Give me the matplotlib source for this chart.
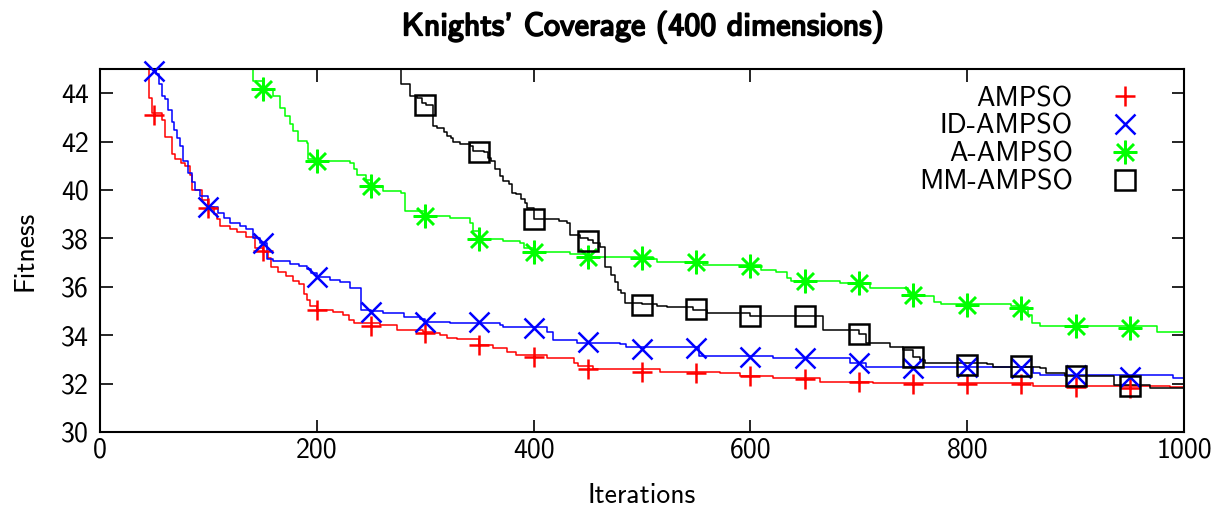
import matplotlib
matplotlib.use("Agg")
import matplotlib.pyplot as plt
import matplotlib.patheffects as pe
from matplotlib.lines import Line2D

plt.rcParams["font.family"] = ["cmss10", "DejaVu Sans"]
plt.rcParams["axes.unicode_minus"] = False
plt.rcParams["mathtext.fontset"] = "cm"

title = "Knights' Coverage (400 dimensions)"
x_label = "Iterations"
y_label = "Fitness"
series_names = ["AMPSO", "ID-AMPSO", "A-AMPSO", "MM-AMPSO"]

x_ticks = [0, 200, 400, 600, 800, 1000]
y_ticks = [30, 32, 34, 36, 38, 40, 42, 44]

# Best-so-far fitness, stored as (iteration, value) step points
ampso_it = [44, 45, 48, 57, 60, 66, 69, 75, 78, 83, 85, 94, 100, 105, 108, 111,
            120, 126, 135, 143, 150, 155, 158, 164, 172, 178, 184, 188, 191, 194,
            200, 215, 224, 230, 234, 258, 274, 298, 307, 314, 320, 329, 350, 363,
            375, 384, 412, 437, 441, 455, 517, 572, 590, 621, 664, 713, 861, 987, 1000]
ampso_fit = [46.0, 43.8, 43.2, 42.9, 42.2, 41.5, 41.3, 41.1, 41.0, 40.6, 40.0, 39.6,
             39.3, 39.0, 38.8, 38.5, 38.4, 38.25, 38.05, 37.6, 37.45, 37.2, 36.8,
             36.6, 36.45, 36.25, 36.1, 35.7, 35.45, 35.2, 35.05, 34.97, 34.83,
             34.63, 34.5, 34.42, 34.21, 34.14, 34.08, 34.0, 33.9, 33.83, 33.6,
             33.46, 33.32, 33.18, 33.04, 32.84, 32.73, 32.59, 32.49, 32.42, 32.31,
             32.22, 32.08, 32.01, 31.9, 31.86, 31.86]

idampso_it = [49, 52, 54, 57, 60, 63, 66, 68, 71, 74, 77, 81, 85, 88, 92, 100, 109,
              114, 120, 129, 135, 141, 148, 154, 160, 175, 184, 191, 195, 200, 212,
              221, 231, 241, 250, 261, 280, 295, 300, 323, 369, 372, 412, 418, 440,
              480, 485, 553, 621, 692, 707, 861, 867, 990, 1000]
idampso_fit = [46.0, 44.8, 44.4, 43.9, 43.75, 43.3, 42.8, 42.5, 42.15, 41.8, 41.2,
               40.7, 40.35, 40.0, 39.75, 39.3, 39.05, 38.85, 38.65, 38.5, 38.38,
               38.0, 37.8, 37.13, 37.07, 36.93, 36.86, 36.72, 36.56, 36.4, 36.28,
               36.21, 35.94, 35.04, 34.98, 34.9, 34.76, 34.69, 34.56, 34.52, 34.42,
               34.33, 34.14, 33.8, 33.66, 33.62, 33.5, 33.14, 33.06, 32.86, 32.67,
               32.42, 32.34, 32.22, 32.22]

aampso_it = [138, 141, 150, 160, 166, 171, 175, 178, 183, 191, 192, 200, 231, 234,
             237, 245, 250, 261, 278, 281, 300, 323, 341, 344, 350, 372, 387, 391,
             400, 434, 450, 510, 514, 556, 610, 624, 634, 637, 683, 710, 745, 751,
             769, 776, 840, 850, 856, 860, 867, 975, 1000]
aampso_fit = [46.0, 44.5, 44.17, 43.88, 43.4, 43.06, 42.71, 42.44, 42.02, 41.95,
              41.27, 41.2, 41.13, 40.86, 40.62, 40.4, 40.17, 39.96, 39.89, 39.13,
              38.93, 38.86, 38.65, 38.3, 37.97, 37.89, 37.8, 37.6, 37.44, 37.35,
              37.24, 37.13, 37.02, 36.9, 36.69, 36.62, 36.35, 36.24, 36.15, 35.94,
              35.73, 35.63, 35.38, 35.27, 35.2, 35.15, 34.83, 34.49, 34.38, 34.14,
              34.14]

mmampso_it = [277, 278, 286, 292, 297, 301, 307, 311, 317, 320, 324, 326, 332, 341,
              344, 354, 358, 361, 364, 369, 372, 377, 380, 384, 388, 392, 394, 400,
              423, 431, 434, 443, 450, 455, 461, 466, 471, 475, 478, 481, 484, 500,
              514, 523, 547, 560, 592, 600, 667, 700, 707, 729, 741, 750, 756, 761,
              818, 824, 867, 873, 890, 935, 969, 1000]
mmampso_fit = [46.0, 44.37, 43.88, 43.81, 43.6, 43.5, 42.64, 42.57, 42.4, 42.23,
               42.16, 41.98, 41.89, 41.82, 41.61, 41.57, 41.33, 41.2, 40.86, 40.58,
               40.37, 40.24, 39.89, 39.82, 39.61, 39.48, 39.27, 38.79, 38.73, 38.64,
               38.14, 38.0, 37.93, 37.8, 37.65, 36.83, 36.49, 36.21, 35.87, 35.73,
               35.32, 35.27, 35.2, 35.15, 35.04, 34.93, 34.9, 34.8, 34.21, 34.05,
               33.66, 33.52, 33.39, 33.11, 32.98, 32.84, 32.8, 32.7, 32.63, 32.42,
               32.3, 31.94, 31.83, 31.83]

# Point markers every 50 iterations
ampso_mk_it = [50, 100, 150, 200, 250, 300, 350, 400, 450, 500, 550, 600, 650, 700,
               750, 800, 850, 900, 950]
ampso_mk = [43.1, 39.25, 37.5, 35.05, 34.4, 34.1, 33.6, 33.1, 32.6, 32.5, 32.44,
            32.3, 32.2, 32.07, 31.98, 32.0, 32.0, 31.86, 31.8]
idampso_mk_it = [50, 100, 150, 200, 250, 300, 350, 400, 450, 500, 550, 600, 650,
                 700, 750, 800, 850, 900, 950]
idampso_mk = [44.9, 39.3, 37.8, 36.4, 34.96, 34.55, 34.55, 34.3, 33.7, 33.45, 33.47,
              33.1, 33.05, 32.85, 32.63, 32.7, 32.64, 32.36, 32.28]
aampso_mk_it = [150, 200, 250, 300, 350, 400, 450, 500, 550, 600, 650, 700, 750,
                800, 850, 900, 950]
aampso_mk = [44.17, 41.2, 40.17, 38.93, 37.97, 37.44, 37.23, 37.19, 37.02, 36.85,
             36.24, 36.15, 35.66, 35.25, 35.12, 34.38, 34.3]
mmampso_mk_it = [300, 350, 400, 450, 500, 550, 600, 650, 700, 750, 800, 850, 900, 950]
mmampso_mk = [43.5, 41.57, 38.8, 37.9, 35.25, 35.08, 34.8, 34.8, 34.05, 33.1, 32.77,
              32.72, 32.3, 31.9]

colors = ["#ff0000", "#0000ff", "#00ff00", "#000000"]
markers = ["+", "x", (8, 2, 0), "s"]
msizes = [15, 15, 17, 15]

lines = [(ampso_it, ampso_fit), (idampso_it, idampso_fit),
         (aampso_it, aampso_fit), (mmampso_it, mmampso_fit)]
points = [(ampso_mk_it, ampso_mk), (idampso_mk_it, idampso_mk),
          (aampso_mk_it, aampso_mk), (mmampso_mk_it, mmampso_mk)]

FS = 20

fig = plt.figure(figsize=(12.2, 5.12), dpi=100)
ax = fig.add_axes([100 / 1220, 1 - 432 / 512, 1084 / 1220, 363 / 512])

for (xs, ys), (mx, my), c, m, ms in zip(lines, points, colors, markers, msizes):
    ax.plot(xs, ys, color=c, lw=1.1, drawstyle="steps-post", zorder=2)
    ax.plot(mx, my, ls="none", marker=m, ms=ms, mew=1.8, mec=c,
            mfc="none", zorder=3, clip_on=False)

ax.set_xlim(0, 1000)
ax.set_ylim(30, 45)
ax.set_xticks(x_ticks)
ax.set_yticks(y_ticks)
ax.tick_params(direction="in", length=9, width=1.2, top=True, right=True,
               labelsize=FS)
ax.tick_params(axis="x", pad=4)
ax.tick_params(axis="y", pad=8)
for s in ax.spines.values():
    s.set_linewidth(1.5)

ax.set_xlabel(x_label, fontsize=FS)
ax.set_ylabel(y_label, fontsize=FS)
ax.xaxis.set_label_coords(0.5, -0.14)
ax.yaxis.set_label_coords(-0.069, 0.5)
ax.yaxis.label.set_va("center")
ax.xaxis.label.set_va("top")

t = fig.text(642 / 1220, 1 - 27 / 512, title, fontsize=23, ha="center",
             va="center")
t.set_path_effects([pe.withStroke(linewidth=1.3, foreground="black")])

handles = [Line2D([], [], ls="none", marker=m, ms=ms, mew=1.8, mec=c, mfc="none")
           for c, m, ms in zip(colors, markers, msizes)]
ax.legend(handles, series_names, loc="upper right", markerfirst=False,
          frameon=False, fontsize=FS, handlelength=2.0, handletextpad=0.87,
          labelspacing=0.1, borderpad=0.0, borderaxespad=0.0,
          bbox_to_anchor=(0.971, 0.953))

fig.savefig("out.png", dpi=100)
